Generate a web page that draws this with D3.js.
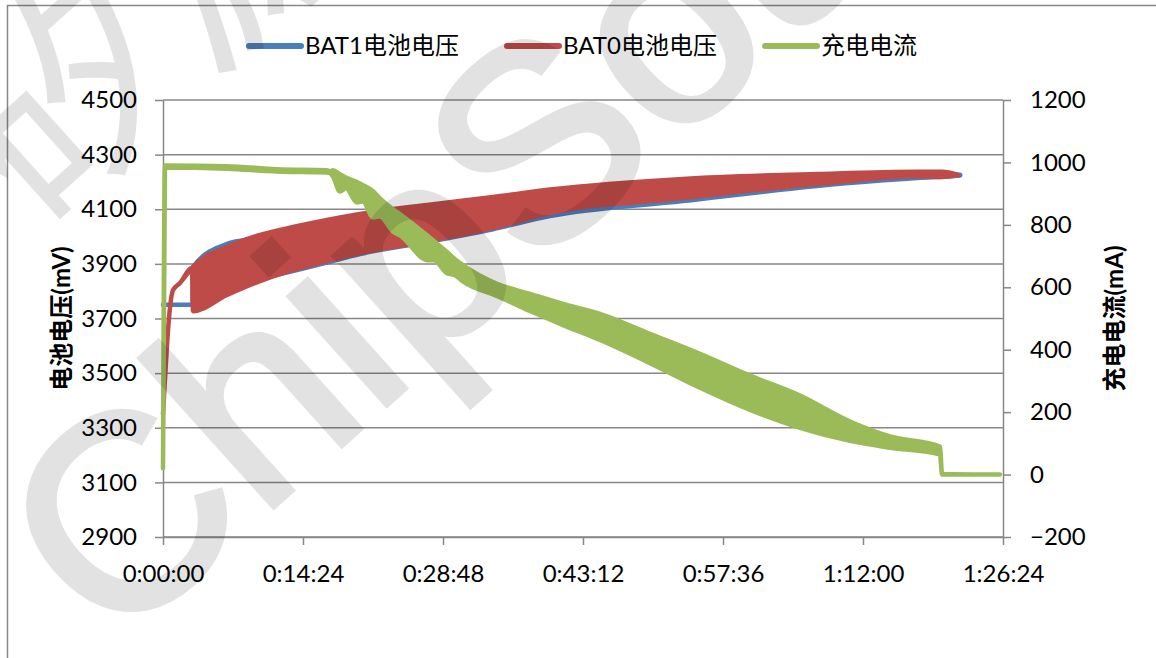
<!DOCTYPE html>
<html>
<head>
<meta charset="utf-8">
<script src="https://cdn.jsdelivr.net/npm/d3@7"></script>
<style>
  body { margin: 0; background: #fff; }
  svg text { font-family: Lato, "Noto Sans CJK SC", sans-serif; fill: #000; }
</style>
</head>
<body>
<svg id="chart" width="1156" height="658"></svg>
<script>
// time axis ticks (seconds), every 0:14:24
const timeTicks = [0, 864, 1728, 2592, 3456, 4320, 5184];
const voltTicks = [2900, 3100, 3300, 3500, 3700, 3900, 4100, 4300, 4500];
const currTicks = [-200, 0, 200, 400, 600, 800, 1000, 1200];

// BAT1 voltage (mV): sampled min / max envelope of the ripple, time in s
const bat1Time = [0, 183, 185, 395, 599, 802, 1012, 1216, 1629, 2037, 2388, 3209, 4036, 4653, 4810, 4920];
const bat1High = [3750, 3750, 3889, 3973, 3995, 4025, 4051, 4073, 4106, 4135, 4165, 4203, 4221, 4229, 4229, 4226];
const bat1Low  = [3750, 3750, 3800, 3810, 3845, 3874, 3905, 3936, 3980, 4027, 4075, 4130, 4185, 4214, 4219, 4224];

// BAT0 voltage (mV)
const bat0Time = [0, 12, 31, 62, 105, 179, 185, 395, 599, 802, 1012, 1216, 1629, 2037, 2388, 3209, 4036, 4653, 4810, 4906];
const bat0High = [3350, 3475, 3658, 3804, 3830, 3885, 3889, 3962, 4006, 4035, 4061, 4083, 4116, 4145, 4172, 4211, 4229, 4237, 4237, 4226];
const bat0Low  = [3350, 3475, 3658, 3804, 3830, 3885, 3727, 3786, 3837, 3877, 3910, 3940, 3983, 4031, 4086, 4141, 4192, 4221, 4218, 4224];

// charge current (mA)
const chgTime = [0, 12, 395, 704, 1012, 1031, 1049, 1092, 1129, 1197, 1234, 1296, 1339, 1419, 1463, 1635, 1672, 1753, 1802, 1851,
                 2061, 2265, 2469, 2697, 3005, 3314, 3623, 3931, 4240, 4487, 4795, 4808, 5165];
const chgHigh = [20, 990, 988, 978, 975, 972, 975, 962, 952, 937, 927, 908, 885, 850, 834, 764, 748, 713, 690, 671,
                 611, 579, 547, 515, 451, 387, 317, 253, 170, 122, 90, 2, 0];
const chgLow  = [20, 984, 980, 971, 968, 966, 955, 907, 917, 872, 875, 824, 827, 779, 766, 687, 687, 645, 639, 619,
                 572, 524, 479, 431, 357, 278, 207, 150, 108, 86, 64, 0, 0];

const seriesNames = ["BAT1电池电压", "BAT0电池电压", "充电电流"];
const colors = ["#4a7ebb", "#be4b48", "#9bbb59"];

const svg = d3.select("#chart");
const plot = {left: 163, right: 1003, top: 100, bottom: 537};
const gridColor = "#878787";

// chart area border (extends past the picture on right / bottom)
svg.append("rect")
    .attr("x", 7.5).attr("y", 5.5)
    .attr("width", 1300).attr("height", 800)
    .attr("fill", "#fff")
    .attr("stroke", gridColor).attr("stroke-width", 1.5);

const x = d3.scaleLinear().domain([0, 5184]).range([plot.left, plot.right]);
const yL = d3.scaleLinear().domain([2900, 4500]).range([plot.bottom, plot.top]);
const yR = d3.scaleLinear().domain([-200, 1200]).range([plot.bottom, plot.top]);

function fmtTime(s) {
  const h = Math.floor(s / 3600), m = Math.floor((s % 3600) / 60), sec = s % 60;
  return h + ":" + String(m).padStart(2, "0") + ":" + String(sec).padStart(2, "0");
}

// horizontal gridlines
svg.append("g").selectAll("line")
    .data(voltTicks)
  .enter().append("line")
    .attr("x1", plot.left).attr("x2", plot.right)
    .attr("y1", d => yL(d)).attr("y2", d => yL(d))
    .attr("stroke", gridColor).attr("stroke-width", 1.5);

// axes
function styleAxis(g) {
  g.selectAll("path.domain").attr("stroke", gridColor).attr("stroke-width", 1.5);
  g.selectAll(".tick line").attr("stroke", gridColor).attr("stroke-width", 1.5);
  g.selectAll("text").attr("font-size", 24).attr("fill", "#000");
}

svg.append("g")
    .attr("transform", `translate(${plot.left},0)`)
    .call(d3.axisLeft(yL).tickValues(voltTicks).tickFormat(d3.format("d"))
      .tickSize(8).tickSizeOuter(0).tickPadding(18))
    .call(styleAxis);

svg.append("g")
    .attr("transform", `translate(${plot.right},0)`)
    .call(d3.axisRight(yR).tickValues(currTicks).tickFormat(d3.format("d"))
      .tickSize(8).tickSizeOuter(0).tickPadding(19))
    .call(styleAxis);

svg.append("g")
    .attr("transform", `translate(0,${plot.bottom})`)
    .call(d3.axisBottom(x).tickValues(timeTicks).tickFormat(fmtTime)
      .tickSize(8).tickSizeOuter(0).tickPadding(20))
    .call(styleAxis);

// axis titles
svg.append("text")
    .attr("transform", `translate(70,${(plot.top + plot.bottom) / 2}) rotate(-90)`)
    .attr("text-anchor", "middle")
    .attr("font-size", 24).attr("font-weight", "bold")
    .text("电池电压(mV)");
svg.append("text")
    .attr("transform", `translate(1123,${(plot.top + plot.bottom) / 2}) rotate(-90)`)
    .attr("text-anchor", "middle")
    .attr("font-size", 24).attr("font-weight", "bold")
    .text("充电电流(mA)");

// series drawn as ripple envelopes
function band(times, hi, lo) {
  return times.map((t, i) => ({t: t, hi: hi[i], lo: lo[i]}));
}
const series = [
  {data: band(bat1Time, bat1High, bat1Low), y: yL},
  {data: band(bat0Time, bat0High, bat0Low), y: yL},
  {data: band(chgTime, chgHigh, chgLow), y: yR}
];

series.forEach((s, i) => {
  const area = d3.area()
      .curve(d3.curveMonotoneX)
      .x(d => x(d.t))
      .y0(d => s.y(d.lo))
      .y1(d => s.y(d.hi));
  svg.append("path")
      .datum(s.data)
      .attr("d", area)
      .attr("fill", colors[i])
      .attr("stroke", colors[i])
      .attr("stroke-width", 4.5)
      .attr("stroke-linejoin", "round")
      .attr("stroke-linecap", "round");
});

// legend
const legendX = [247, 505, 763];
const legend = svg.append("g").selectAll("g")
    .data(seriesNames)
  .enter().append("g")
    .attr("transform", (d, i) => `translate(${legendX[i]},46)`);
legend.append("line")
    .attr("x1", 2).attr("x2", 54)
    .attr("stroke", (d, i) => colors[i])
    .attr("stroke-width", 6)
    .attr("stroke-linecap", "round");
legend.append("text")
    .attr("x", 58).attr("dy", "0.35em")
    .attr("font-size", 24)
    .text(d => d);

// watermark over everything
const wm = svg.append("g")
    .attr("opacity", 0.11)
    .style("pointer-events", "none");
wm.append("text")
    .attr("transform", "translate(112,652) rotate(-42)")
    .attr("font-size", 275)
    .attr("stroke", "#000").attr("stroke-width", 6)
    .style("font-family", "'Liberation Sans', sans-serif")
    .style("fill", "#000")
    .text("ChipSourceTek");
wm.append("text")
    .attr("transform", "translate(34,232) rotate(-42)")
    .attr("font-size", 230)
    .style("font-family", "'Noto Sans CJK SC', sans-serif")
    .style("fill", "#000")
    .text("矽源特");
</script>
</body>
</html>
